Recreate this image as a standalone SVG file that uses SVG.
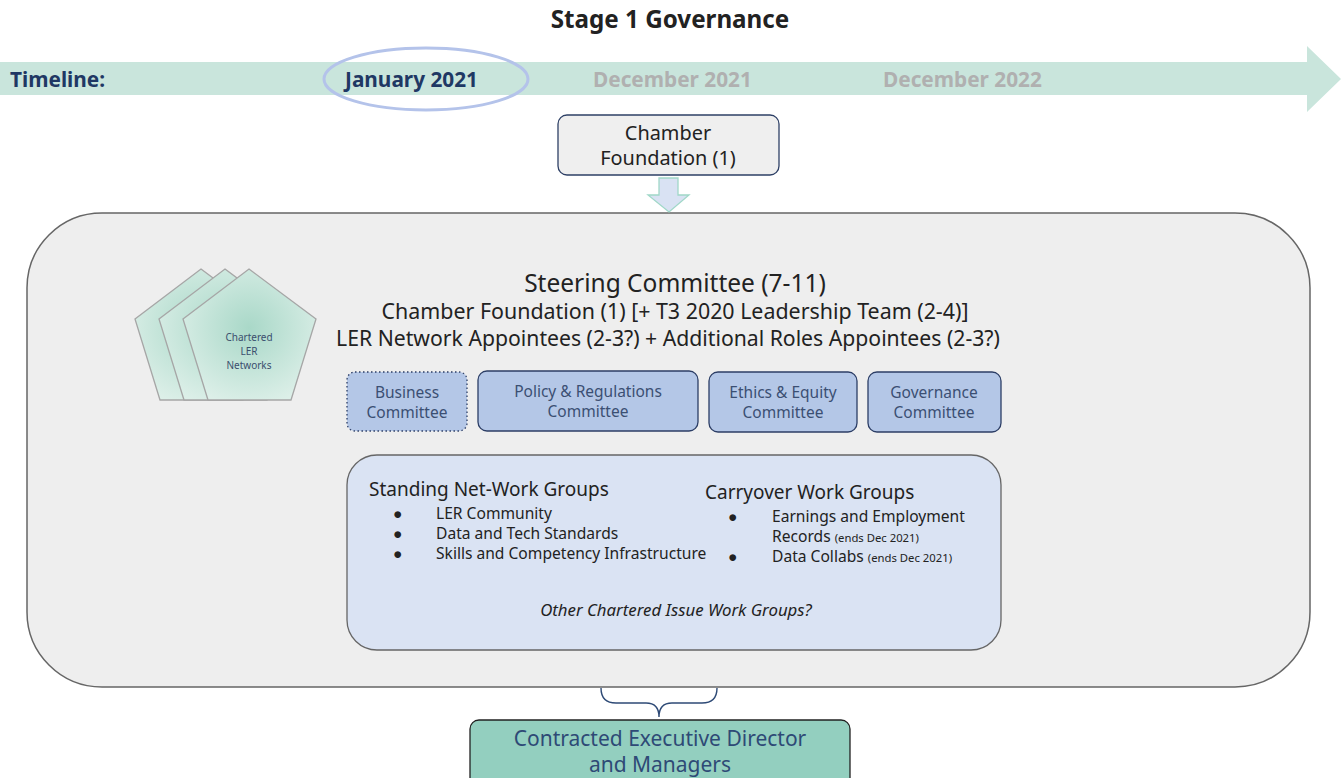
<svg xmlns="http://www.w3.org/2000/svg" width="1343" height="778" viewBox="0 0 1343 778">
<style>
text{font-family:"Noto Sans","Open Sans","Liberation Sans",sans-serif}
.title{font-size:24.2px;font-weight:bold;fill:#222;text-anchor:middle}
.tl{font-size:20.8px;font-weight:bold}
.cf{font-size:19.9px;fill:#222;text-anchor:middle}
.sc{fill:#222;text-anchor:middle}
.com{fill:#b4c7e7;stroke:#2c3e66;stroke-width:1.3}
.ct{font-size:15.5px;fill:#3b4f73;text-anchor:middle}
.wg{font-size:19px;fill:#222}
.wi{font-size:15.6px;fill:#222}
.sm{font-size:11.3px}
.pent{fill:url(#pg);stroke:#a6a6a6;stroke-width:1.3}
</style>
<defs>
<radialGradient id="pg" cx="0.5" cy="0.45" r="0.6">
<stop offset="0" stop-color="#a9d8c8"/>
<stop offset="1" stop-color="#dcefe8"/>
</radialGradient>
</defs>
<rect width="1343" height="778" fill="#ffffff"/>
<text class="title" x="670" y="28">Stage 1 Governance</text>
<g id="timeline">
<polygon points="0,62 1307,62 1307,46 1341,79 1307,112 1307,95 0,95" fill="#c9e5dc"/>
<ellipse cx="426" cy="79" rx="102" ry="31" fill="none" stroke="#b4c3ea" stroke-width="3"/>
<text class="tl" x="10" y="87" fill="#1f3864">Timeline:</text>
<text class="tl" x="345" y="87" fill="#1f3864">January 2021</text>
<text class="tl" x="593" y="87" fill="#b0b0b0">December 2021</text>
<text class="tl" x="883" y="87" fill="#b0b0b0">December 2022</text>
</g>
<g id="chamber-foundation">
<rect x="558" y="115" width="221" height="60" rx="9" fill="#efefef" stroke="#2e4066" stroke-width="1.3"/>
<text class="cf" x="668" y="140">Chamber</text>
<text class="cf" x="668" y="165">Foundation (1)</text>
</g>
<g id="steering-committee">
<rect x="27" y="213" width="1283" height="474" rx="75" fill="#eeeeee" stroke="#666" stroke-width="1.5"/>
<text class="sc" x="675" y="292" font-size="24.5">Steering Committee (7-11)</text>
<text class="sc" x="675" y="319" font-size="21.4">Chamber Foundation (1) [+ T3 2020 Leadership Team (2-4)]</text>
<text class="sc" x="668" y="346" font-size="21.2">LER Network Appointees (2-3?) + Additional Roles Appointees (2-3?)</text>
</g>
<g id="chartered-ler-networks">
<polygon class="pent" points="201,269 268,319 243,400 160,400 135,319"/>
<polygon class="pent" points="225,269 292,319 267,400 184,400 159,319"/>
<polygon class="pent" points="249,269 316,319 291,400 208,400 183,319"/>
<text x="249" y="341" font-size="10" fill="#3b4f6e" text-anchor="middle">Chartered</text>
<text x="249" y="355" font-size="10" fill="#3b4f6e" text-anchor="middle">LER</text>
<text x="249" y="369" font-size="10" fill="#3b4f6e" text-anchor="middle">Networks</text>
</g>
<g id="business-committee">
<rect class="com" x="347" y="372" width="120" height="59" rx="8" stroke-dasharray="1.5,2.5"/>
<text class="ct" x="407" y="398">Business</text>
<text class="ct" x="407" y="418">Committee</text>
</g>
<g id="policy-committee">
<rect class="com" x="478" y="371" width="220" height="60" rx="9"/>
<text class="ct" x="588" y="397">Policy &amp; Regulations</text>
<text class="ct" x="588" y="417">Committee</text>
</g>
<g id="ethics-committee">
<rect class="com" x="709" y="372" width="148" height="60" rx="9"/>
<text class="ct" x="783" y="398">Ethics &amp; Equity</text>
<text class="ct" x="783" y="418">Committee</text>
</g>
<g id="governance-committee">
<rect class="com" x="868" y="372" width="133" height="60" rx="9"/>
<text class="ct" x="934" y="398">Governance</text>
<text class="ct" x="934" y="418">Committee</text>
</g>
<g id="work-groups">
<rect x="347" y="455" width="654" height="195" rx="30" fill="#dae3f3" stroke="#666" stroke-width="1.3"/>
<text class="wg" x="369" y="496">Standing Net-Work Groups</text>
<text class="wi" x="393" y="519">●</text>
<text class="wi" x="436" y="519">LER Community</text>
<text class="wi" x="393" y="539">●</text>
<text class="wi" x="436" y="539">Data and Tech Standards</text>
<text class="wi" x="393" y="559">●</text>
<text class="wi" x="436" y="559">Skills and Competency Infrastructure</text>
<text class="wg" x="705" y="499">Carryover Work Groups</text>
<text class="wi" x="728" y="522">●</text>
<text class="wi" x="772" y="522">Earnings and Employment</text>
<text class="wi" x="772" y="542">Records <tspan class="sm">(ends Dec 2021)</tspan></text>
<text class="wi" x="728" y="562">●</text>
<text class="wi" x="772" y="562">Data Collabs <tspan class="sm">(ends Dec 2021)</tspan></text>
<text x="676" y="616" font-size="16.8" fill="#222" text-anchor="middle" font-style="italic">Other Chartered Issue Work Groups?</text>
</g>
<g id="executive-director">
<rect x="470" y="720" width="380" height="70" rx="9" fill="#93cfbf" stroke="#222" stroke-width="1.3"/>
<text x="660" y="746" font-size="21" fill="#2e4a76" text-anchor="middle">Contracted Executive Director</text>
<text x="660" y="772" font-size="21" fill="#2e4a76" text-anchor="middle">and Managers</text>
</g>
<g id="connectors">
<polygon points="659,178 678,178 678,195 689,195 669,212 648,195 659,195" fill="#d9e2f3" stroke="#a0d8c8" stroke-width="1.3"/>
<path d="M601,688 Q601,703 616,703 L646,703 Q659,703 659,717 Q659,703 672,703 L702,703 Q717,703 717,688" fill="none" stroke="#2e4a76" stroke-width="1.4"/>
</g>
</svg>
